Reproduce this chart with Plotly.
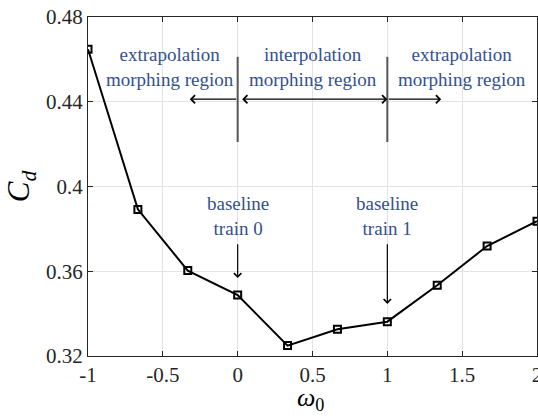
import plotly.graph_objects as go

# Drag coefficient versus morphing weight omega_0
omega0 = [-1.0, -2/3, -1/3, 0.0, 1/3, 2/3, 1.0, 4/3, 5/3, 2.0]
cd = [0.4648, 0.3892, 0.3603, 0.3488, 0.3249, 0.3326, 0.3362, 0.3534, 0.3719, 0.3836]

x_ticks = [-1, -0.5, 0, 0.5, 1, 1.5, 2]
x_tick_text = ["-1", "-0.5", "0", "0.5", "1", "1.5", "2"]
y_ticks = [0.32, 0.36, 0.40, 0.44, 0.48]
y_tick_text = ["0.32", "0.36", "0.4", "0.44", "0.48"]

# region boundaries and labels
boundaries = [0.0, 1.0]
region_labels = ["extrapolation<br>morphing region",
                 "interpolation<br>morphing region",
                 "extrapolation<br>morphing region"]
region_x = [-0.45, 0.5, 1.5]
baseline_labels = ["baseline<br>train 0", "baseline<br>train 1"]
baseline_x = [0.0, 1.0]
baseline_tips = [0.3568, 0.3446]

serif = "Liberation Serif, Times New Roman, serif"
blue = "#34508f"

fig = go.Figure()
fig.add_trace(go.Scatter(
    x=omega0, y=cd, mode="lines+markers",
    line=dict(color="black", width=2),
    marker=dict(symbol="square-open", size=7, color="black", line=dict(width=2)),
    showlegend=False,
))

shapes = []
for b in boundaries:
    shapes.append(dict(type="line", xref="x", yref="y", x0=b, x1=b, y0=0.421, y1=0.4612,
                       line=dict(color="#555555", width=2)))

annotations = []
for t, xc in zip(region_labels, region_x):
    annotations.append(dict(x=xc, y=0.4565, xref="x", yref="y", text=t, showarrow=False,
                            font=dict(family=serif, size=19, color=blue), align="center"))

arrow_y = 0.4412
# left extrapolation arrow
annotations.append(dict(x=-0.32, y=arrow_y, ax=0.0, ay=arrow_y, xref="x", yref="y",
                        axref="x", ayref="y", text="", showarrow=True, arrowhead=4,
                        arrowsize=1.2, arrowwidth=1.3, arrowcolor="black"))
# interpolation double arrow
annotations.append(dict(x=1.0, y=arrow_y, ax=0.02, ay=arrow_y, xref="x", yref="y",
                        axref="x", ayref="y", text="", showarrow=True, arrowhead=4,
                        arrowside="end+start", startarrowhead=4, startarrowsize=1.2,
                        arrowsize=1.2, arrowwidth=1.3, arrowcolor="black"))
# right extrapolation arrow
annotations.append(dict(x=1.36, y=arrow_y, ax=1.0, ay=arrow_y, xref="x", yref="y",
                        axref="x", ayref="y", text="", showarrow=True, arrowhead=4,
                        arrowsize=1.2, arrowwidth=1.3, arrowcolor="black"))

# baseline labels with downward arrows
for t, xb, tip in zip(baseline_labels, baseline_x, baseline_tips):
    annotations.append(dict(x=xb, y=0.3861, xref="x", yref="y", text=t, showarrow=False,
                            font=dict(family=serif, size=19, color=blue), align="center"))
    annotations.append(dict(x=xb, y=tip, ax=xb, ay=0.3735, xref="x", yref="y",
                            axref="x", ayref="y", text="", showarrow=True, arrowhead=4,
                            arrowsize=1.2, arrowwidth=1.2, arrowcolor="black"))

# axis titles
annotations.append(dict(x=-0.15, y=0.5, xref="paper", yref="paper",
                        xanchor="center", yanchor="middle",
                        text="<i>C</i><sub><i>d</i></sub>", showarrow=False, textangle=-90,
                        font=dict(family=serif, size=31, color="black")))
annotations.append(dict(x=0.495, y=-0.127, xref="paper", yref="paper",
                        xanchor="center", yanchor="middle",
                        text="<i>ω</i><sub>0</sub>", showarrow=False,
                        font=dict(family=serif, size=26, color="black")))

axis_common = dict(showline=True, linecolor="#262626", linewidth=1, mirror="ticks",
                   ticks="inside", ticklen=5, tickcolor="#262626",
                   showgrid=True, gridcolor="#e3e3e3", gridwidth=1, zeroline=False,
                   automargin=False, ticklabeloverflow="allow",
                   tickfont=dict(family=serif, size=21, color="#262626"))

fig.update_layout(
    width=538, height=419,
    margin=dict(l=88, r=1, t=17, b=63),
    paper_bgcolor="white", plot_bgcolor="white",
    xaxis=dict(range=[-1, 2], tickvals=x_ticks, ticktext=x_tick_text, **axis_common),
    yaxis=dict(range=[0.32, 0.48], tickvals=y_ticks, ticktext=y_tick_text, **axis_common),
    shapes=shapes, annotations=annotations,
)

fig.write_html("out.html")
